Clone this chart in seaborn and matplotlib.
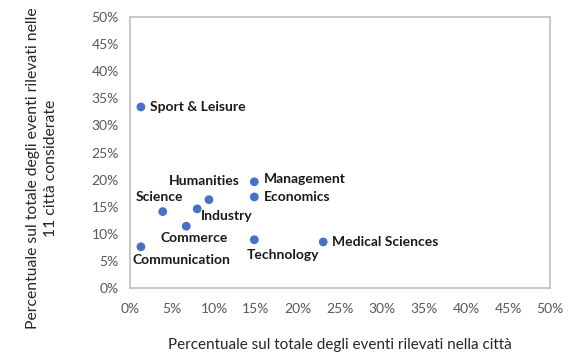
import matplotlib
matplotlib.use("Agg")
import matplotlib.pyplot as plt
import seaborn as sns
import pandas as pd
from matplotlib.ticker import PercentFormatter

# values (percent)
categories = ["Sport & Leisure", "Humanities", "Management", "Economics", "Science",
              "Industry", "Commerce", "Communication", "Technology", "Medical Sciences"]
city_share = [1.3, 9.4, 14.8, 14.8, 3.9, 8.0, 6.7, 1.3, 14.8, 23.0]
total_share = [33.4, 16.3, 19.6, 16.8, 14.1, 14.6, 11.4, 7.6, 8.9, 8.5]

# label placement: (dx, dy) in pixels from the dot, horizontal alignment
label_pos = {
    "Sport & Leisure": (9, 0, "left"),
    "Humanities": (-5, 19, "center"),
    "Management": (10, 3, "left"),
    "Economics": (10, 0, "left"),
    "Science": (-3, 15, "center"),
    "Industry": (30, -7, "center"),
    "Commerce": (8, -12, "center"),
    "Communication": (41, -13, "center"),
    "Technology": (29, -15, "center"),
    "Medical Sciences": (9, 0, "left"),
}

df = pd.DataFrame({"cat": categories, "x": city_share, "y": total_share})

sns.set_style("white")
plt.rcParams["font.family"] = ["Lato", "DejaVu Sans"]

fig = plt.figure(figsize=(5.86, 3.63), dpi=100)
ax = fig.add_axes([130 / 586, 1 - 288 / 363, 420 / 586, 271 / 363])

sns.scatterplot(data=df, x="x", y="y", ax=ax, color="#4472C4", s=40,
                edgecolor="none", zorder=3)

for _, r in df.iterrows():
    dx, dy, ha = label_pos[r["cat"]]
    ax.annotate(r["cat"], (r["x"], r["y"]), xytext=(dx, dy), textcoords="offset pixels",
                ha=ha, va="center", fontsize=10, fontweight="bold", color="#1a1a1a")

ax.set_xlim(0, 50)
ax.set_ylim(0, 50)
ax.set_xticks(range(0, 51, 5))
ax.set_yticks(range(0, 51, 5))
ax.xaxis.set_major_formatter(PercentFormatter(decimals=0))
ax.yaxis.set_major_formatter(PercentFormatter(decimals=0))
ax.tick_params(axis="x", length=0, labelsize=10, colors="#595959", pad=11)
ax.tick_params(axis="y", length=0, labelsize=10, colors="#595959", pad=8)
for s in ax.spines.values():
    s.set_color("#BFBFBF")
    s.set_linewidth(1.2)

ax.set_ylabel("")
ax.set_xlabel("Percentuale sul totale degli eventi rilevati nella città",
              fontsize=11, color="#262626", labelpad=16)
fig.text(42 / 586, 1 - 168 / 363,
         "Percentuale sul totale degli eventi rilevati nelle\n11 città considerate",
         rotation=90, ha="center", va="center", multialignment="center",
         fontsize=11.3, color="#262626", linespacing=1.3)

fig.savefig("out.png", dpi=100)
